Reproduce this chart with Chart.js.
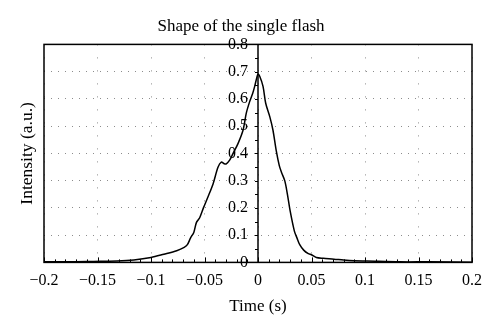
<!DOCTYPE html>
<html>
<head>
<meta charset="utf-8">
<script src="https://cdn.jsdelivr.net/npm/chart.js@4.4.1/dist/chart.umd.min.js"></script>
<style>
  html, body { margin: 0; padding: 0; background: #fff; }
  #wrap { width: 500px; height: 333px; }
</style>
</head>
<body>
<div id="wrap"><canvas id="flashChart" width="500" height="333"></canvas></div>
<script>
// time (s) and intensity (a.u.)
let timeValues = [
  -0.2, -0.18, -0.16, -0.147, -0.132, -0.116, -0.1, -0.088, -0.076, -0.069,
  -0.066, -0.063, -0.06, -0.0576, -0.0545, -0.051, -0.047, -0.042, -0.0374, -0.0343,
  -0.0315, -0.0296, -0.0265, -0.0234, -0.0187, -0.014, -0.011, -0.0078, -0.005, -0.0031,
  -0.001, 0, 0.0016, 0.0047, 0.0072, 0.011, 0.014, 0.017, 0.0199, 0.022,
  0.025, 0.0275, 0.03, 0.034, 0.0364, 0.039, 0.0427, 0.047, 0.05, 0.0545,
  0.061, 0.071, 0.08, 0.09, 0.102, 0.133, 0.16, 0.2
];
let intensityValues = [
  0.002, 0.002, 0.003, 0.004, 0.005, 0.009, 0.018, 0.03, 0.043, 0.055,
  0.065, 0.09, 0.11, 0.146, 0.164, 0.2, 0.238, 0.288, 0.349, 0.368,
  0.362, 0.362, 0.375, 0.399, 0.436, 0.485, 0.547, 0.59, 0.62, 0.646,
  0.68, 0.691, 0.683, 0.646, 0.584, 0.535, 0.485, 0.411, 0.355, 0.33,
  0.3, 0.25, 0.19, 0.115, 0.09, 0.065, 0.045, 0.032, 0.028, 0.018,
  0.015, 0.012, 0.0085, 0.006, 0.005, 0.002, 0.002, 0.001
];

let xMin = -0.2, xMax = 0.2, xStep = 0.05, xMinorStep = 0.01;
let yMin = 0, yMax = 0.8, yStep = 0.1, yMinorStep = 0.05;
// the centre axis labels sit a little left of t = 0
let labelGap = 0.0093;

const FONT = "'Liberation Serif', 'DejaVu Serif', serif";

function fmt(value) {
  let v = Math.round(value * 100) / 100;
  return (v < 0 ? "\u2212" : "") + Math.abs(v);
}

// box around the plot, the axis line at t = 0 and small inward minor ticks
const frameAndTicks = {
  id: "frameAndTicks",
  afterDraw(chart) {
    let ctx = chart.ctx;
    let a = chart.chartArea;
    let xs = chart.scales.x;
    let yc = chart.scales.yc;
    ctx.save();
    ctx.strokeStyle = "#000";
    ctx.lineWidth = 1;
    for (let v = xMin; v <= xMax + 1e-9; v += xMinorStep) {
      let px = Math.round(xs.getPixelForValue(v)) + 0.5;
      let len = Math.abs(v / xStep - Math.round(v / xStep)) < 1e-6 ? 5 : 3;
      ctx.beginPath();
      ctx.moveTo(px, a.bottom);
      ctx.lineTo(px, a.bottom - len);
      ctx.stroke();
    }
    let x0 = xs.getPixelForValue(0);
    for (let v = yMin; v <= yMax + 1e-9; v += yMinorStep) {
      let py = Math.round(yc.getPixelForValue(v)) + 0.5;
      ctx.beginPath();
      ctx.moveTo(x0 - 3, py);
      ctx.lineTo(x0, py);
      ctx.stroke();
    }
    ctx.lineWidth = 1.5;
    ctx.strokeRect(a.left, a.top, a.right - a.left, a.bottom - a.top);
    ctx.beginPath();
    ctx.moveTo(x0, a.top);
    ctx.lineTo(x0, a.bottom);
    ctx.stroke();
    ctx.restore();
  }
};

let ctx = document.getElementById("flashChart").getContext("2d");
let myChart = new Chart(ctx, {
  type: "line",
  data: {
    datasets: [
      {
        label: "Intensity",
        data: timeValues.map((t, i) => ({ x: t, y: intensityValues[i] })),
        borderColor: "#000",
        borderWidth: 1.5,
        pointRadius: 0,
        tension: 0.3,
        fill: false
      }
    ]
  },
  options: {
    responsive: false,
    animation: false,
    layout: { padding: { left: 10, right: 28, bottom: 16 } },
    plugins: {
      legend: { display: false },
      tooltip: { enabled: false },
      title: {
        display: true,
        text: "Shape of the single flash",
        color: "#000",
        font: { family: FONT, size: 17, weight: "normal" },
        padding: { top: 16, bottom: 8 }
      }
    },
    scales: {
      x: {
        type: "linear",
        min: xMin,
        max: xMax,
        ticks: {
          stepSize: xStep,
          color: "#000",
          font: { family: FONT, size: 16 },
          padding: 9,
          maxRotation: 0,
          callback: (v) => fmt(v)
        },
        grid: { color: "#8c8c8c", lineWidth: 1, drawTicks: false },
        border: { display: false, dash: [1, 12] },
        title: {
          display: true,
          text: "Time (s)",
          color: "#000",
          font: { family: FONT, size: 17 },
          padding: { top: -3, bottom: 0 }
        }
      },
      y: {
        type: "linear",
        position: "left",
        min: yMin,
        max: yMax,
        ticks: { stepSize: yStep, display: false },
        grid: { color: "#8c8c8c", lineWidth: 1, drawTicks: false },
        border: { display: false, dash: [1, 6] },
        title: {
          display: true,
          text: "Intensity (a.u.)",
          color: "#000",
          font: { family: FONT, size: 17.5 },
          padding: { top: 7, bottom: 6 }
        }
      },
      yc: {
        type: "linear",
        position: { x: -labelGap },
        min: yMin,
        max: yMax,
        ticks: {
          stepSize: yStep,
          color: "#000",
          font: { family: FONT, size: 16 },
          callback: (v) => fmt(v)
        },
        grid: { drawOnChartArea: false, drawTicks: false },
        border: { display: false }
      }
    }
  },
  plugins: [frameAndTicks]
});
</script>
</body>
</html>
